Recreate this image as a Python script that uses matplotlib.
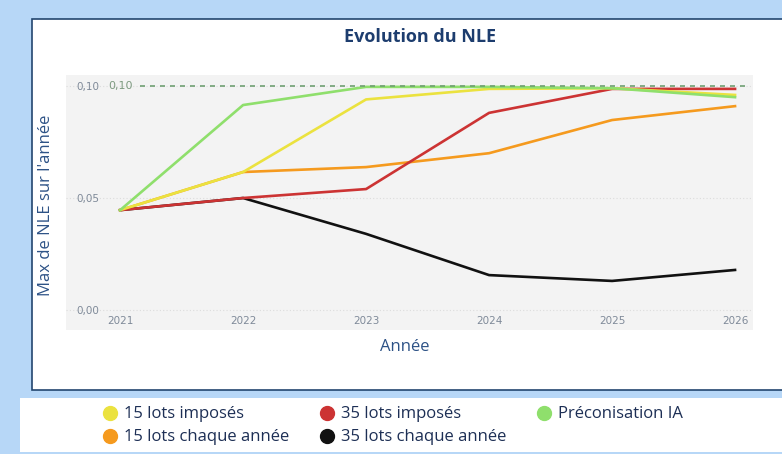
import matplotlib.pyplot as plt
from matplotlib.patches import Rectangle
from matplotlib.lines import Line2D

# --- Data ---
years = [2021, 2022, 2023, 2024, 2025, 2026]
labels = ['15 lots imposés', '15 lots chaque année', '35 lots imposés',
          '35 lots chaque année', 'Préconisation IA']
yellow_15_imp = [0.0446, 0.0616, 0.094, 0.0987, 0.099, 0.096]
orange_15_each = [0.0446, 0.0616, 0.0638, 0.070, 0.0848, 0.091]
red_35_imp = [0.0446, 0.050, 0.054, 0.088, 0.0987, 0.0987]
black_35_each = [0.0446, 0.050, 0.034, 0.0156, 0.013, 0.0179]
green_ia = [0.0446, 0.0915, 0.0996, 0.0996, 0.099, 0.095]
threshold = 0.10
yticks = [0.00, 0.05, 0.10]
ytick_labels = ['0,00', '0,05', '0,10']

series = [yellow_15_imp, orange_15_each, red_35_imp, black_35_each, green_ia]
colors = ['#ebe23f', '#f59a1e', '#cc3333', '#111111', '#8fdf6c']
zorders = [4, 2, 3, 1, 5]

W, H = 782, 454
fig = plt.figure(figsize=(W / 100, H / 100), dpi=100)
fig.patch.set_facecolor('#b7d7f7')

# panels
fig.patches.append(Rectangle((32 / W, 1 - 390 / H), 760 / W, 371 / H,
                             transform=fig.transFigure, facecolor='white',
                             edgecolor='#23466f', linewidth=1.2, zorder=-2))
fig.patches.append(Rectangle((20 / W, 1 - 452 / H), 770 / W, 54 / H,
                             transform=fig.transFigure, facecolor='white',
                             edgecolor='none', zorder=-2))

ax = fig.add_axes([66 / W, 1 - 330 / H, 687 / W, 255 / H])
ax.set_zorder(1)
ax.set_facecolor('#f3f3f3')
for s in ax.spines.values():
    s.set_visible(False)

for ys, c, z in zip(series, colors, zorders):
    ax.plot(years, ys, color=c, linewidth=1.9, zorder=z)

ax.axhline(threshold, xmin=0.108, xmax=0.995, color='#6f9f72',
           linestyle=(0, (3, 3)), linewidth=1.2, zorder=6)
ax.text(2020.9, threshold, '0,10', color='#7d9a80', fontsize=8,
        va='center', ha='left', zorder=6)

ax.set_xlim(2020.56, 2026.146)
ax.set_ylim(-0.0089, 0.1049)
ax.set_xticks(years)
ax.set_yticks(yticks)
ax.set_yticklabels(ytick_labels)
ax.tick_params(axis='both', length=0, labelsize=7.5, labelcolor='#7f8a99')
ax.tick_params(axis='y', pad=-24)
ax.tick_params(axis='x', pad=-10)
ax.grid(axis='y', color='#dcdcdc', linestyle=(0, (1, 2)), linewidth=0.8)
ax.set_axisbelow(True)

fig.text(420 / W, 1 - 37 / H, 'Evolution du NLE', ha='center', va='center',
         fontsize=13, fontweight='bold', color='#1d3d6e', family='Open Sans')
fig.text(405 / W, 1 - 347 / H, 'Année', ha='center', va='center',
         fontsize=12, color='#2d5286', family='Open Sans')
fig.text(46 / W, 1 - 205 / H, "Max de NLE sur l'année", ha='center',
         va='center', rotation=90, fontsize=12, color='#2d5286',
         family='Open Sans')

handles = [Line2D([], [], linestyle='none', marker='o', markersize=10,
                  markerfacecolor=c, markeredgecolor=c) for c in colors]
fig.legend(handles, labels, ncol=3, loc='upper left',
           bbox_to_anchor=(92 / W, 1 - 398 / H), frameon=False,
           handletextpad=0.2, columnspacing=1.7,
           labelspacing=0.42, borderpad=0, handlelength=1.2,
           labelcolor='#1d2f55',
           prop={'family': 'Open Sans', 'size': 12})

fig.savefig('out.png', dpi=100, facecolor=fig.get_facecolor())
